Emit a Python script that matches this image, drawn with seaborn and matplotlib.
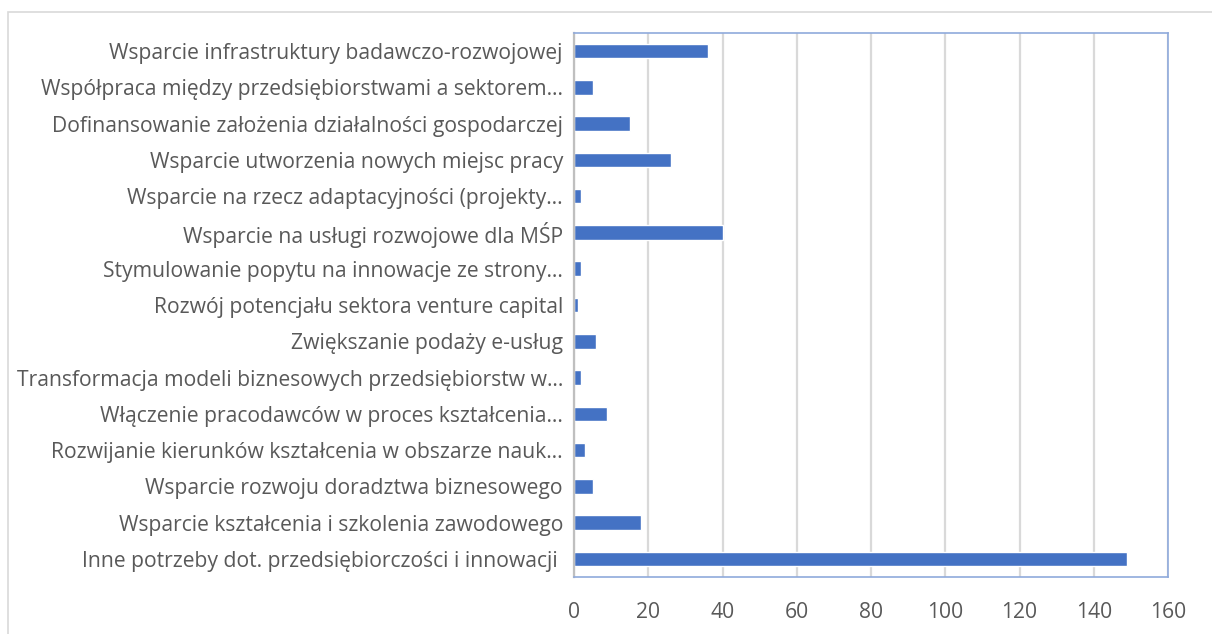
import matplotlib
matplotlib.use("Agg")
import matplotlib.pyplot as plt
import seaborn as sns
import pandas as pd
from matplotlib.patches import Rectangle

categories = [
    "Wsparcie infrastruktury badawczo-rozwojowej",
    "Współpraca między przedsiębiorstwami a sektorem…",
    "Dofinansowanie założenia działalności gospodarczej",
    "Wsparcie utworzenia nowych miejsc pracy",
    "Wsparcie na rzecz adaptacyjności (projekty…",
    "Wsparcie na usługi rozwojowe dla MŚP",
    "Stymulowanie popytu na innowacje ze strony…",
    "Rozwój potencjału sektora venture capital",
    "Zwiększanie podaży e-usług",
    "Transformacja modeli biznesowych przedsiębiorstw w…",
    "Włączenie pracodawców w proces kształcenia…",
    "Rozwijanie kierunków kształcenia w obszarze nauk…",
    "Wsparcie rozwoju doradztwa biznesowego",
    "Wsparcie kształcenia i szkolenia zawodowego",
    "Inne potrzeby dot. przedsiębiorczości i innowacji ",
]
values = [36, 5, 15, 26, 2, 40, 2, 1, 6, 2, 9, 3, 5, 18, 149]
x_ticks = [0, 20, 40, 60, 80, 100, 120, 140, 160]

df = pd.DataFrame({"kategoria": categories, "liczba": values})

sns.set_theme(style="white")
plt.rcParams["font.family"] = ["Open Sans", "DejaVu Sans"]

fig = plt.figure(figsize=(12.12, 6.34), dpi=100)
ax = fig.add_axes([0.4736, 0.0899, 0.4901, 0.8581])

sns.barplot(data=df, x="liczba", y="kategoria", orient="h", color="#4472C4",
            saturation=1, width=0.4, ax=ax)

ax.set_xlim(0, 160)
ax.set_xticks(x_ticks)
ax.xaxis.grid(True, color="#D9D9D9", linewidth=1.6)
ax.set_axisbelow(True)
ax.set_xlabel("")
ax.set_ylabel("")
ax.tick_params(axis="both", length=0, colors="#595959", labelsize=15.2)
ax.tick_params(axis="y", pad=8)
ax.tick_params(axis="x", pad=18)
for side in ["top", "right", "bottom"]:
    ax.spines[side].set_color("#8FAADC")
    ax.spines[side].set_linewidth(1.2)
ax.spines["left"].set_color("#BFBFBF")
ax.spines["left"].set_linewidth(1.6)

# outer chart-area frame
fig.patches.append(Rectangle((8 / 1212, -0.01), 1.1, 1 - 12 / 634 + 0.01,
                             transform=fig.transFigure, fill=False,
                             edgecolor="#D9D9D9", linewidth=1.2))

fig.savefig("out.png", dpi=100)
